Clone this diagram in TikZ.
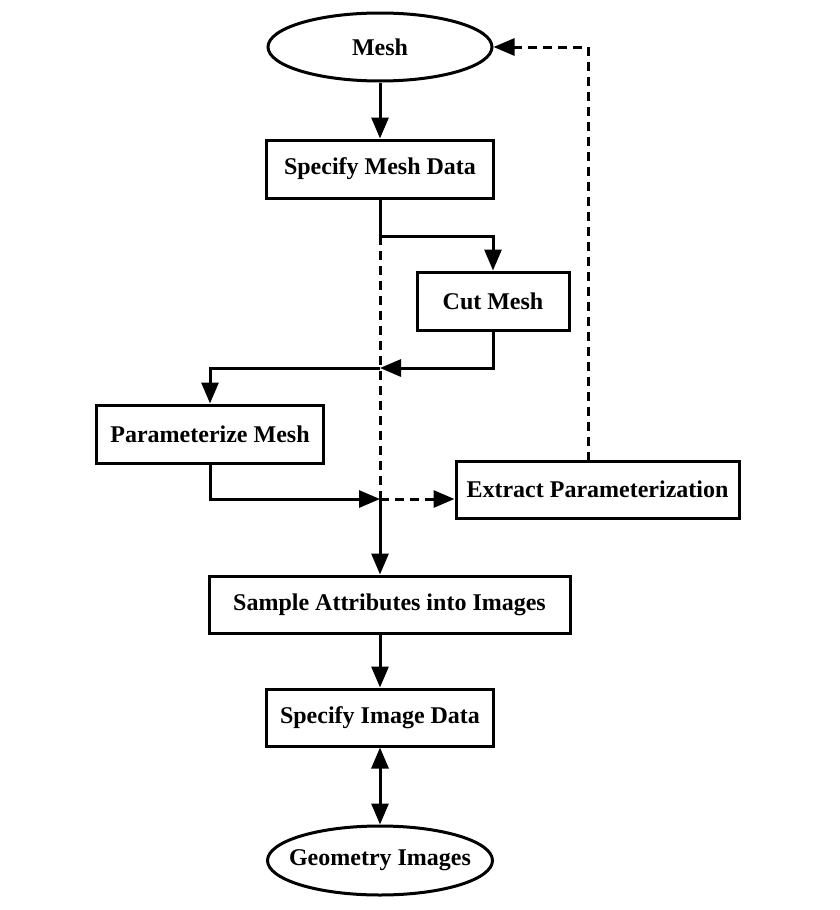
\documentclass[tikz,border=0pt]{standalone}
\usepackage{fontspec}
\setmainfont{Liberation Serif}
\usetikzlibrary{arrows.meta}
\usetikzlibrary{positioning}
\usetikzlibrary{shapes.geometric}

\begin{document}
\begin{tikzpicture}[x=1pt, y=-1pt,
        box/.style={rectangle, draw, line width=3pt, fill=white, inner sep=0pt,
          font=\fontsize{24}{28}\selectfont\bfseries},
        oval/.style={ellipse, draw, line width=3pt, fill=white, inner xsep=-40pt, inner ysep=-10pt,
          font=\fontsize{24}{28}\selectfont\bfseries},
        flow/.style={line width=3pt, -{Triangle[length=21pt, width=17pt]}},
        plain/.style={line width=3pt},
        dotflow/.style={line width=3pt, dash pattern=on 9pt off 6pt},
        both/.style={line width=3pt, {Triangle[length=21pt, width=17pt]}-{Triangle[length=21pt, width=17pt]}}]
        \fill[white] (0,0) rectangle (840,910);
        \useasboundingbox (0,0) rectangle (840,910);
        \node [oval, minimum width=224pt, minimum height=68pt] (mesh) at (380, 47) {Mesh};
        \node [box, minimum width=227pt, minimum height=58pt] (meshdata) at (380, 169) {Specify Mesh Data};
        \node [box, minimum width=152pt, minimum height=58pt] (cut) at (493, 301) {Cut Mesh};
        \node [box, minimum width=227pt, minimum height=58pt] (param) at (210, 434) {Parameterize Mesh};
        \node [box, minimum width=283pt, minimum height=57pt] (extract) at (597.5, 489.5) {Extract Parameterization};
        \node [box, minimum width=361pt, minimum height=57pt] (sample) at (389.5, 604.5) {Sample Attributes into Images};
        \node [box, minimum width=227pt, minimum height=57pt] (imgdata) at (380, 717.5) {Specify Image Data};
        \node [oval, minimum width=225pt, minimum height=69pt] (geom) at (380, 860.5) {Geometry Images};
        \coordinate (split) at (380, 236);
        \coordinate (merge) at (380, 368);
        \coordinate (join) at (380, 499);
        \coordinate (ret) at (588, 461);
        \coordinate (back) at (588, 47);
        % dashed feedback path
        \draw[dotflow] (split)--(join);
        \draw[dotflow, -{Triangle[length=21pt, width=17pt]}] (join)--(join -| extract.west);
        \draw[dotflow, -{Triangle[length=21pt, width=17pt]}] (ret)--(back)--(mesh.east);
        % main flow
        \draw[flow] (mesh)--(meshdata);
        \draw[plain] (meshdata)--(split);
        \draw[flow] (split)-|(cut);
        \draw[flow] (cut)|-(merge);
        \draw[flow] (merge)-|(param);
        \draw[flow] (param)|-(join);
        \draw[flow] (join)--(join |- sample.north);
        \draw[flow] (imgdata |- sample.south)--(imgdata);
        \draw[both] (imgdata)--(geom);
      \end{tikzpicture}
\end{document}
